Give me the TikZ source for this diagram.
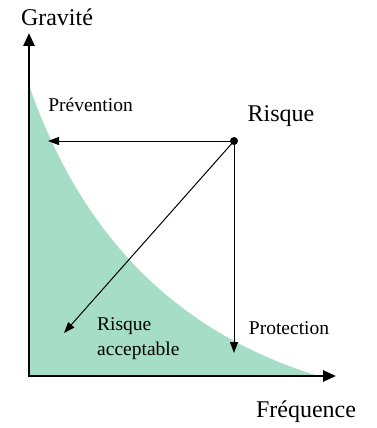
\documentclass[tikz,border=0pt]{standalone}
\usepackage{fontspec}
\setmainfont{Liberation Serif}
\newfontfamily\tnr{Liberation Serif}
\usetikzlibrary{arrows.meta}
\definecolor{mint}{RGB}{166,221,198}
\begin{document}
\begin{tikzpicture}[x=1pt,y=-1pt,
  axis/.style={line width=2.6pt,-{Triangle[length=13pt,width=11pt]}},
  conn/.style={line width=1pt,-{Triangle[length=11pt,width=8pt]}},
  big/.style={font=\tnr\fontsize{24}{26}\selectfont,inner sep=0pt},
  small/.style={font=\tnr\fontsize{19.5}{25}\selectfont,inner sep=0pt}]
\useasboundingbox (0,0) rectangle (376,428);
% acceptable risk region
\fill[mint] (30,88) .. controls (80,230) and (170,330) .. (318,376) -- (30,376) -- cycle;
% axes
\coordinate (o) at (29,376);
\coordinate (ytop) at (29,33);
\coordinate (xend) at (336,376);
\draw[axis] (29,377.3) -- (ytop);
\draw[axis] (27.7,376) -- (xend);
% labels
\node[big] (grav) at (57,17) {Gravité};
\node[big] (freq) at (306,412) {Fréquence};
\node[big] (risque) at (281,116) {Risque};
\node[small] (prev) at (90.5,105) {Prévention};
\node[small] (prot) at (289,328) {Protection};
\node[small,align=left,anchor=west] (acc) at (97,339) {Risque\\acceptable};
% risk point and arrows
\node[circle,fill=black,inner sep=0pt,minimum size=8pt] (dot) at (234,141) {};
\coordinate (pt) at (48,141);
\coordinate (ct) at (234,353);
\coordinate (dt) at (64,333);
\draw[conn] (dot.center) -- (pt);
\draw[conn] (dot.center) -- (ct);
\draw[conn] (dot.center) -- (dt);
\end{tikzpicture}
\end{document}
